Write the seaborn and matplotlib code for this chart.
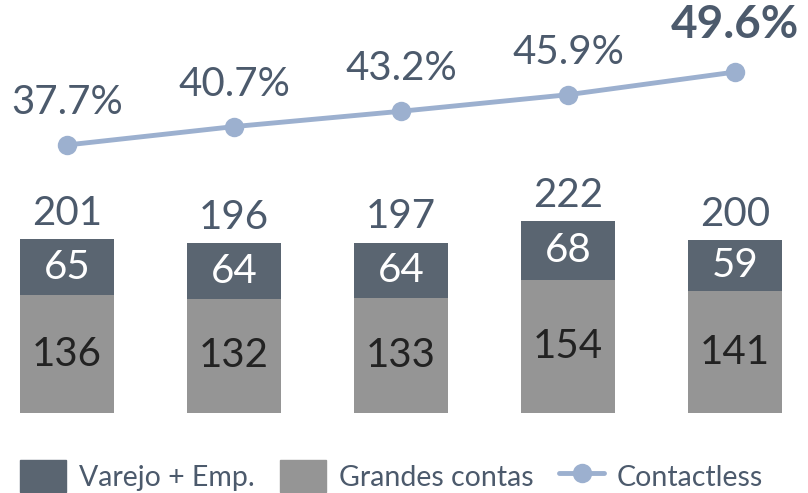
import matplotlib
matplotlib.use("Agg")
import matplotlib.pyplot as plt
import seaborn as sns
import pandas as pd
from matplotlib.patches import Patch
from matplotlib.lines import Line2D

categories = ["P1", "P2", "P3", "P4", "P5"]
varejo = [65, 64, 64, 68, 59]
grandes = [136, 132, 133, 154, 141]
contactless = [37.7, 40.7, 43.2, 45.9, 49.6]
series_names = ["Varejo + Emp.", "Grandes contas", "Contactless"]

totals = [v + g for v, g in zip(varejo, grandes)]
df = pd.DataFrame({"cat": categories, "varejo": varejo, "grandes": grandes,
                   "total": totals, "pct": contactless, "x": range(len(categories))})

sns.set_theme(style="white")
plt.rcParams["font.family"] = ["Lato", "DejaVu Sans"]

C_DARK = "#5a6571"
C_GRAY = "#959595"
C_LINE = "#9cb0cf"
C_TEXT = "#4c5a6c"

fig = plt.figure(figsize=(8.08, 4.93), dpi=100)
ax = fig.add_axes([0, 80 / 493, 1, 413 / 493])

sns.barplot(data=df, x="cat", y="total", color=C_DARK, width=0.56,
            saturation=1, ax=ax, edgecolor="none")
sns.barplot(data=df, x="cat", y="grandes", color=C_GRAY, width=0.56,
            saturation=1, ax=ax, edgecolor="none")
ax.set_xlim(-67 / 167, (808 - 67) / 167)
ax.set_ylim(0, 413 / 0.865)
ax.axis("off")

for i in range(len(categories)):
    ax.text(i, grandes[i] / 2, f"{grandes[i]}", ha="center", va="center",
            fontsize=29, color="#222222")
    ax.text(i, grandes[i] + varejo[i] / 2, f"{varejo[i]}", ha="center", va="center",
            fontsize=29, color="white")
    ax.text(i, totals[i] + 30, f"{totals[i]}", ha="center", va="center",
            fontsize=29, color=C_TEXT)

ax2 = ax.twinx()
sns.lineplot(data=df, x="x", y="pct", color=C_LINE, lw=3.5, marker="o",
             markersize=14, markeredgewidth=0, ax=ax2)
ax2.set_xlim(ax.get_xlim())
ax2.set_ylim(-6.02, 61.35)
ax2.axis("off")
for i, p in enumerate(contactless):
    last = i == len(contactless) - 1
    ax2.text(i, p + (7.7 if last else 6.9), f"{p:.1f}%", ha="center", va="center",
             fontsize=33 if last else 29, color=C_TEXT,
             fontweight="bold" if last else "normal")

handles = [Patch(color=C_DARK), Patch(color=C_GRAY),
           Line2D([0], [0], color=C_LINE, lw=3.5, marker="o", markersize=14,
                  markeredgewidth=0)]
fig.legend(handles, series_names, loc="center", bbox_to_anchor=(0.485, 17 / 493),
           ncol=3, frameon=False, fontsize=20.5, labelcolor=C_TEXT,
           handlelength=1.6, handleheight=1.3, handletextpad=0.45, columnspacing=0.9)

fig.savefig("out.png", dpi=100)
